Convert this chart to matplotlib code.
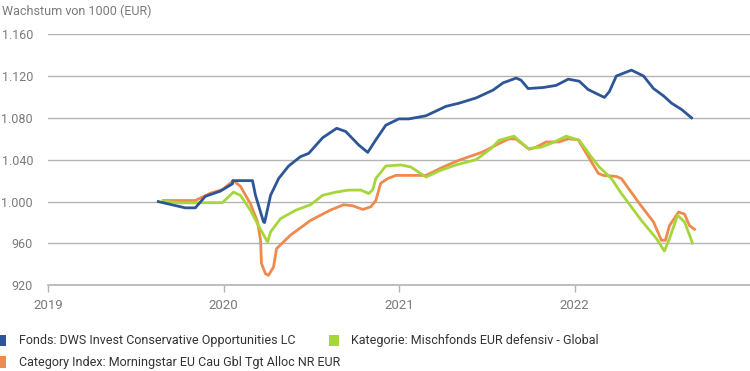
import matplotlib
matplotlib.use('Agg')
import matplotlib.pyplot as plt
from matplotlib.patches import Patch
from matplotlib.ticker import FuncFormatter

# time in decimal years, values = growth of 1000 EUR
fonds_t = [2019.627, 2019.781, 2019.838, 2019.895, 2019.981, 2020.050, 2020.051, 2020.164,
           2020.181, 2020.227, 2020.233, 2020.267, 2020.313, 2020.370, 2020.438, 2020.484,
           2020.564, 2020.644, 2020.695, 2020.770, 2020.821, 2020.867, 2020.924, 2020.998,
           2021.055, 2021.153, 2021.267, 2021.341, 2021.438, 2021.535, 2021.593, 2021.667,
           2021.695, 2021.735, 2021.821, 2021.895, 2021.964, 2022.027, 2022.078, 2022.170,
           2022.198, 2022.238, 2022.324, 2022.393, 2022.450, 2022.507, 2022.553, 2022.610,
           2022.667]
fonds_v = [1000, 994, 994, 1005, 1010, 1017, 1020, 1020,
           1006, 980.5, 980, 1006, 1022, 1034, 1043, 1046,
           1061, 1070, 1067, 1054, 1047, 1059, 1073, 1079,
           1079, 1082, 1091, 1094, 1099, 1106.5, 1113.5, 1118,
           1116, 1108, 1109, 1111, 1117, 1115, 1107, 1099.5,
           1105, 1120, 1125.6, 1120, 1108, 1101, 1094, 1088,
           1080]

kat_t = [2019.655, 2019.753, 2019.993, 2020.055, 2020.095, 2020.152, 2020.198, 2020.250,
         2020.267, 2020.324, 2020.410, 2020.495, 2020.564, 2020.638, 2020.713, 2020.781,
         2020.827, 2020.850, 2020.867, 2020.924, 2021.010, 2021.067, 2021.153, 2021.238,
         2021.324, 2021.438, 2021.524, 2021.570, 2021.655, 2021.735, 2021.810, 2021.895,
         2021.952, 2022.027, 2022.095, 2022.141, 2022.210, 2022.267, 2022.381, 2022.467,
         2022.512, 2022.541, 2022.587, 2022.627, 2022.672]
kat_v = [1000.5, 998.7, 999, 1009, 1006, 991.7, 977, 961.3,
         971, 983.7, 991.7, 997, 1006, 1009, 1011, 1011,
         1007.7, 1011.5, 1022, 1034, 1035, 1033, 1023.5, 1030,
         1035, 1040, 1050.7, 1058.6, 1062.5, 1050.7, 1052, 1057.7,
         1062.5, 1058.6, 1042.7, 1033, 1022, 1007.7, 982, 964.6,
         952.7, 964.6, 987, 980.5, 960.4]

idx_t = [2019.655, 2019.838, 2019.924, 2019.993, 2020.055, 2020.095, 2020.152, 2020.193,
         2020.210, 2020.215, 2020.238, 2020.255, 2020.284, 2020.301, 2020.381, 2020.495,
         2020.610, 2020.684, 2020.735, 2020.793, 2020.838, 2020.867, 2020.895, 2020.935,
         2020.981, 2021.153, 2021.250, 2021.341, 2021.478, 2021.570, 2021.627, 2021.667,
         2021.741, 2021.781, 2021.838, 2021.912, 2021.964, 2022.021, 2022.067, 2022.135,
         2022.164, 2022.238, 2022.267, 2022.370, 2022.450, 2022.495, 2022.518, 2022.541,
         2022.593, 2022.627, 2022.655, 2022.684]
idx_v = [1001, 1001, 1008, 1011.5, 1020, 1014.6, 998, 980.5,
         963, 941, 931, 929.5, 937.5, 955, 968, 982,
         992, 997, 996, 992.5, 995, 1001, 1017.5, 1022,
         1025, 1025, 1033, 1039.5, 1047.5, 1055.5, 1060, 1059.6,
         1050, 1052, 1057, 1057, 1060, 1059, 1046, 1027,
         1025, 1024, 1022, 998, 980.5, 963, 963, 977,
         990, 988, 977, 973.5]

years = [2019, 2020, 2021, 2022]
y_ticks = [920, 960, 1000, 1040, 1080, 1120, 1160]

labels = ['Fonds: DWS Invest Conservative Opportunities LC',
          'Kategorie: Mischfonds EUR defensiv - Global',
          'Category Index: Morningstar EU Cau Gbl Tgt Alloc NR EUR']
colors = ['#2d5597', '#a6d63a', '#ef8a4f']

plt.rcParams['font.family'] = ['Roboto', 'DejaVu Sans']

fig = plt.figure(figsize=(7.5, 3.71), dpi=100)
ax = fig.add_axes([0.0644, 0.231, 0.9356, 0.677])

ax.plot(idx_t, idx_v, color=colors[2], lw=2, zorder=3)
ax.plot(kat_t, kat_v, color=colors[1], lw=2, zorder=4)
ax.plot(fonds_t, fonds_v, color=colors[0], lw=2, zorder=5)

ax.set_xlim(2019, 2023)
ax.set_ylim(920, 1160)
ax.set_yticks(y_ticks)
ax.set_xticks(years)
ax.set_xticklabels([str(y) for y in years])
ax.yaxis.set_major_formatter(FuncFormatter(lambda v, p: f'{int(v):,}'.replace(',', '.')))

ax.grid(axis='y', color='#b4b4b4', lw=1)
ax.set_axisbelow(True)
for s in ['top', 'right', 'left']:
    ax.spines[s].set_visible(False)
ax.spines['bottom'].set_color('#b4b4b4')
ax.spines['bottom'].set_linewidth(1.2)
ax.tick_params(axis='y', length=0, pad=11, labelsize=9, labelcolor='#7a7a7a')
ax.tick_params(axis='x', length=5, width=1, color='#b4b4b4', pad=5, labelsize=9.5, labelcolor='#7a7a7a')

fig.text(0.003, 0.988, 'Wachstum von 1000 (EUR)', fontsize=9, color='#7a7a7a', va='top', ha='left')

handles = [Patch(facecolor=c) for c in colors]
fig.legend(handles[:2], labels[:2], loc='center left', bbox_to_anchor=(-0.004, 0.081),
           ncol=2, frameon=False, fontsize=9, handlelength=0.75, handleheight=1.0,
           handletextpad=1.0, columnspacing=2.7, labelcolor='#333333',
           borderpad=0, borderaxespad=0)
fig.legend(handles[2:], labels[2:], loc='center left', bbox_to_anchor=(-0.004, 0.022),
           frameon=False, fontsize=9, handlelength=0.75, handleheight=1.0,
           handletextpad=1.0, labelcolor='#333333', borderpad=0, borderaxespad=0)

fig.savefig('out.png', dpi=100)
